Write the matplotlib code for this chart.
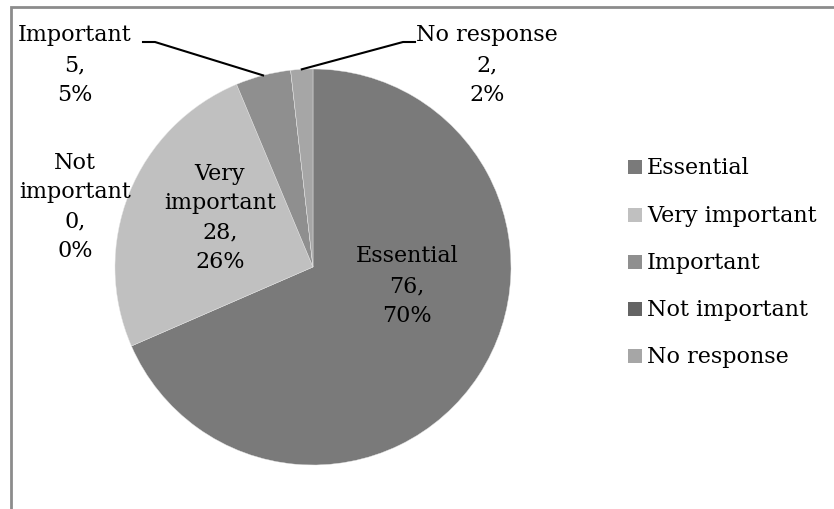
import numpy as np
import matplotlib
matplotlib.use("Agg")
import matplotlib.pyplot as plt
from matplotlib.lines import Line2D
from matplotlib.patches import Rectangle

categories = ["Essential", "Very important", "Important", "Not important", "No response"]
counts = [76, 28, 5, 0, 2]
percent_labels = [70, 26, 5, 0, 2]
colors = ["#7a7a7a", "#c0c0c0", "#8f8f8f", "#646464", "#a6a6a6"]
label_text = ["Essential", "Very\nimportant", "Important", "Not\nimportant", "No response"]

W, H = 834, 510
plt.rcParams["font.family"] = ["DejaVu Serif"]
FS = 16
LS = 1.45

fig = plt.figure(figsize=(W / 100, H / 100), dpi=100)


def fx(x, y):
    return (x / W, 1 - y / H)


# chart area border
fig.patches.append(Rectangle(fx(11, 520), (W + 20) / W, (520 - 8) / H,
                             transform=fig.transFigure, fill=False,
                             edgecolor="#8c8c8c", linewidth=2.0))

cx, cy, r = 313, 268, 198
ax = fig.add_axes([(cx - r) / W, (H - cy - r) / H, 2 * r / W, 2 * r / H])
wedges, _ = ax.pie(counts, colors=colors, startangle=90, counterclock=False,
                   radius=1.0, wedgeprops=dict(edgecolor="#e6e6e6", linewidth=0.3))
ax.set_xlim(-1, 1)
ax.set_ylim(-1, 1)
ax.set_aspect("equal")
ax.axis("off")

total = sum(counts)
cum = np.cumsum([0] + counts)
mid_deg = [(cum[i] + counts[i] / 2) / total * 360 for i in range(len(counts))]


def edge_point(i):
    a = np.deg2rad(mid_deg[i])
    return cx + r * np.sin(a), cy - r * np.cos(a)


def lbl(i):
    return f"{label_text[i]}\n{counts[i]},\n{percent_labels[i]}%"


# label positions (pixel centers)
label_pos = {0: (407, 286), 1: (220, 218), 2: (75, 65), 3: (75, 207), 4: (487, 65)}
for i, (x, y) in label_pos.items():
    fig.text(*fx(x, y), lbl(i), ha="center", va="center", fontsize=FS,
             linespacing=LS, color="black")

# leader lines
ex, ey = edge_point(2)
fig.add_artist(Line2D([143 / W, 155 / W, ex / W], [1 - 43 / H, 1 - 43 / H, 1 - ey / H],
                      transform=fig.transFigure, color="black", linewidth=1.5))
ex, ey = edge_point(4)
fig.add_artist(Line2D([415 / W, 403 / W, ex / W], [1 - 43 / H, 1 - 43 / H, 1 - ey / H],
                      transform=fig.transFigure, color="black", linewidth=1.5))

# legend
leg_y = [168, 216, 263, 310, 357]
for i, name in enumerate(categories):
    y = leg_y[i]
    fig.patches.append(Rectangle(fx(628, y + 7), 14 / W, 14 / H,
                                 transform=fig.transFigure, facecolor=colors[i],
                                 edgecolor="none"))
    fig.text(*fx(647, y), name, ha="left", va="center", fontsize=FS, color="black")

fig.savefig("out.png", dpi=100)
